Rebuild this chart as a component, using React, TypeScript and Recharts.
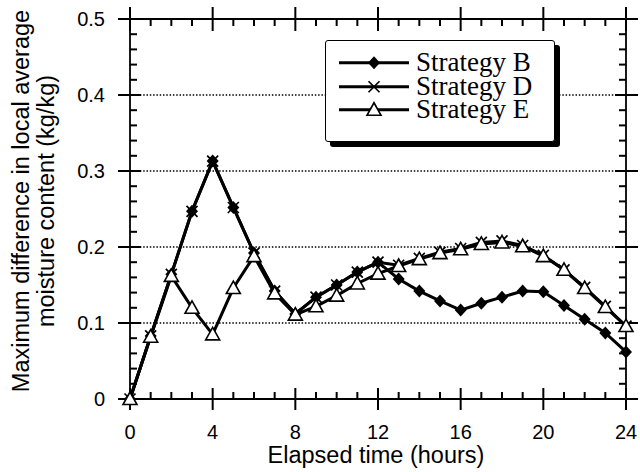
import {
  LineChart,
  Line,
  XAxis,
  YAxis,
  ReferenceLine,
  Legend,
} from 'recharts'

const hours = [0, 1, 2, 3, 4, 5, 6, 7, 8, 9, 10, 11, 12, 13, 14, 15, 16, 17, 18, 19, 20, 21, 22, 23, 24]
const strategyB = [0, 0.083, 0.164, 0.247, 0.313, 0.252, 0.192, 0.142, 0.112, 0.134, 0.15, 0.167, 0.18, 0.158, 0.142, 0.129, 0.117, 0.126, 0.134, 0.142, 0.141, 0.123, 0.105, 0.087, 0.062]
const strategyD = [0, 0.083, 0.164, 0.247, 0.313, 0.252, 0.192, 0.142, 0.112, 0.134, 0.15, 0.167, 0.18, 0.176, 0.185, 0.193, 0.198, 0.206, 0.208, 0.202, 0.189, 0.17, 0.147, 0.122, 0.096]
const strategyE = [0, 0.082, 0.162, 0.12, 0.085, 0.146, 0.188, 0.139, 0.111, 0.122, 0.136, 0.152, 0.165, 0.175, 0.184, 0.192, 0.197, 0.204, 0.206, 0.201, 0.188, 0.17, 0.146, 0.121, 0.096]

const xDomain = [0, 24]
const yDomain = [0, 0.5]
const xMajor = [0, 4, 8, 12, 16, 20, 24]
const yMajor = [0, 0.1, 0.2, 0.3, 0.4, 0.5]
const yLabels = ['0', '0.1', '0.2', '0.3', '0.4', '0.5']
const gridValues = [0.1, 0.2, 0.3, 0.4]

// minor tick positions: every hour on x, every 0.02 on y
const yMinor = Array.from({ length: 26 }, (_, i) => +(i * 0.02).toFixed(2))

const data = hours.map((h, i) => ({ hour: h, B: strategyB[i], D: strategyD[i], E: strategyE[i] }))

const W = 640
const H = 472
const LEFT_W = 130
const RIGHT_W = 14
const TOP_H = 19
const BOTTOM_H = 73
// one pixel in data units, for tick lengths
const PX = (xDomain[1] - xDomain[0]) / (W - LEFT_W - RIGHT_W)
const PY = (yDomain[1] - yDomain[0]) / (H - TOP_H - BOTTOM_H)

const SANS = '"Liberation Sans", Arial, Helvetica, sans-serif'
const SERIF = '"Liberation Serif", "Times New Roman", serif'

const isMajorX = (v: number) => xMajor.includes(v)
const isMajorY = (v: number) => yMajor.some((m) => Math.abs(m - v) < 1e-6)

function BottomLabel({ x, y, payload }: any) {
  return (
    <text x={x} y={y + 40} textAnchor="middle" fontSize={20} fontFamily={SANS} fill="#000">
      {payload.value}
    </text>
  )
}

function LeftLabel({ x, y, index }: any) {
  return (
    <text x={x - 25} y={y} dy="0.36em" textAnchor="end" fontSize={20} fontFamily={SANS} fill="#000">
      {yLabels[index]}
    </text>
  )
}

// frame tick marks as short reference segments: majors cross the frame, minors point inward
function frameTicks() {
  const [x0, x1] = xDomain
  const [y0, y1] = yDomain
  const segs: { key: string; s: { x: number; y: number }[] }[] = []
  hours.forEach((h) => {
    const m = isMajorX(h)
    segs.push({ key: `xb-${h}`, s: [{ x: h, y: m ? y0 - 11 * PY : y0 }, { x: h, y: y0 + (m ? 11 : 7) * PY }] })
    segs.push({ key: `xt-${h}`, s: [{ x: h, y: y1 - (m ? 12 : 7) * PY }, { x: h, y: m ? y1 + 12 * PY : y1 }] })
  })
  yMinor.forEach((v) => {
    const m = isMajorY(v)
    segs.push({ key: `yl-${v}`, s: [{ x: m ? x0 - 12 * PX : x0, y: v }, { x: x0 + (m ? 11 : 7) * PX, y: v }] })
    segs.push({ key: `yr-${v}`, s: [{ x: x1 - (m ? 11 : 7) * PX, y: v }, { x: m ? x1 + 12 * PX : x1, y: v }] })
  })
  return segs.map(({ key, s }) => (
    <ReferenceLine key={key} segment={s} ifOverflow="visible" stroke="#000" strokeWidth={2} />
  ))
}

function Diamond({ cx, cy, index }: any) {
  return <path key={`b-${index}`} d={`M${cx},${cy - 6.5}L${cx + 6},${cy}L${cx},${cy + 6.5}L${cx - 6},${cy}Z`} fill="#000" />
}

function Cross({ cx, cy, index }: any) {
  return (
    <path
      key={`d-${index}`}
      d={`M${cx - 5.5},${cy - 5.5}L${cx + 5.5},${cy + 5.5}M${cx - 5.5},${cy + 5.5}L${cx + 5.5},${cy - 5.5}`}
      stroke="#000"
      strokeWidth={1.7}
      fill="none"
    />
  )
}

function Triangle({ cx, cy, index }: any) {
  return (
    <path
      key={`e-${index}`}
      d={`M${cx},${cy - 7}L${cx + 7},${cy + 5.5}L${cx - 7},${cy + 5.5}Z`}
      fill="#fff"
      stroke="#000"
      strokeWidth={1.6}
    />
  )
}

const legendItems = [
  { name: 'Strategy B', Marker: Diamond },
  { name: 'Strategy D', Marker: Cross },
  { name: 'Strategy E', Marker: Triangle },
]

function LegendBox() {
  return (
    <div
      style={{
        width: 230,
        height: 102,
        boxSizing: 'border-box',
        border: '1.5px solid #000',
        borderRadius: 3,
        boxShadow: '5px 5px 0 #000',
        background: '#fff',
        padding: '10px 0 0 13px',
      }}
    >
      {legendItems.map(({ name, Marker }) => (
        <div key={name} style={{ display: 'flex', alignItems: 'center', height: 23.5 }}>
          <svg width={70} height={23.5} style={{ display: 'block', flex: 'none' }}>
            <line x1={0} x2={70} y1={11.75} y2={11.75} stroke="#000" strokeWidth={2.8} />
            <Marker cx={35} cy={11.75} index={0} />
          </svg>
          <span style={{ marginLeft: 7, fontFamily: SERIF, fontSize: 27, lineHeight: '23.5px', color: '#000', whiteSpace: 'nowrap' }}>
            {name}
          </span>
        </div>
      ))}
    </div>
  )
}

function renderYLabel() {
  return (
    <text transform="rotate(-90)" textAnchor="middle" fontSize={23.5} fontFamily={SANS} fill="#000">
      <tspan x={-201} y={29}>Maximum difference in local average</tspan>
      <tspan x={-201} y={54}>moisture content (kg/kg)</tspan>
    </text>
  )
}

function renderXLabel(props: any) {
  const vb = props.viewBox || { x: LEFT_W, width: W - LEFT_W - RIGHT_W }
  return (
    <text x={vb.x + vb.width / 2 - 2} y={463} textAnchor="middle" fontSize={23.5} fontFamily={SANS} fill="#000">
      Elapsed time (hours)
    </text>
  )
}

const frame = { stroke: '#000', strokeWidth: 1.8 }

export default function App() {
  return (
    <div style={{ position: 'absolute', left: 0, top: 0, width: W, height: H, background: '#fff' }}>
      <LineChart width={W} height={H} data={data} margin={{ top: 0, right: 0, bottom: 0, left: 0 }}>
        <XAxis
          dataKey="hour"
          type="number"
          domain={xDomain}
          ticks={xMajor}
          interval={0}
          tickSize={0}
          tickMargin={0}
          tickLine={false}
          height={BOTTOM_H}
          axisLine={frame}
          tick={BottomLabel}
          label={{ content: renderXLabel }}
        />
        <XAxis xAxisId="top" orientation="top" dataKey="hour" type="number" domain={xDomain} height={TOP_H} axisLine={frame} tick={false} tickLine={false} />
        <YAxis
          type="number"
          domain={yDomain}
          ticks={yMajor}
          interval={0}
          tickSize={0}
          tickMargin={0}
          tickLine={false}
          width={LEFT_W}
          axisLine={frame}
          tick={LeftLabel}
          label={{ content: renderYLabel }}
        />
        <YAxis yAxisId="right" orientation="right" type="number" domain={yDomain} width={RIGHT_W} axisLine={frame} tick={false} tickLine={false} />
        {gridValues.map((v) => (
          <ReferenceLine key={`g-${v}`} y={v} stroke="#000" strokeWidth={1.3} strokeDasharray="1.5 1.8" />
        ))}
        {frameTicks()}
        <Line type="linear" dataKey="B" stroke="#000" strokeWidth={3} dot={Diamond} activeDot={false} isAnimationActive={false} />
        <Line type="linear" dataKey="D" stroke="#000" strokeWidth={3} dot={Cross} activeDot={false} isAnimationActive={false} />
        <Line type="linear" dataKey="E" stroke="#000" strokeWidth={3} dot={Triangle} activeDot={false} isAnimationActive={false} />
        <Legend
          content={() => <LegendBox />}
          layout="horizontal"
          verticalAlign="middle"
          align="center"
          wrapperStyle={{ left: 325, top: 40, width: 235, height: 107 }}
        />
      </LineChart>
    </div>
  )
}
